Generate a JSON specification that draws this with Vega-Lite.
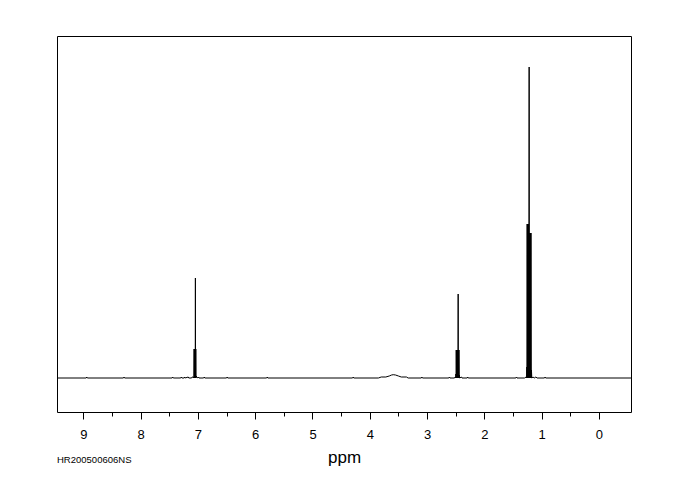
{
  "$schema": "https://vega.github.io/schema/vega-lite/v6.json",
  "autosize": "none",
  "width": 574,
  "height": 376,
  "padding": {"left": 57, "top": 36, "right": 49, "bottom": 88},
  "background": "white",
  "config": {
    "view": {"stroke": "black", "strokeWidth": 1},
    "font": "Liberation Sans"
  },
  "title": {
    "text": "HR200500606NS",
    "orient": "bottom",
    "anchor": "start",
    "frame": "group",
    "fontSize": 9.5,
    "fontWeight": "normal",
    "font": "Liberation Sans",
    "color": "black",
    "offset": -10
  },
  "data": {
    "values": [
      {"ppm": 9.46, "v": 0},
      {"ppm": 8.95, "v": 0},
      {"ppm": 8.94, "v": 1},
      {"ppm": 8.93, "v": 0},
      {"ppm": 8.3, "v": 0},
      {"ppm": 8.29, "v": 1},
      {"ppm": 8.28, "v": 0},
      {"ppm": 7.45, "v": 0},
      {"ppm": 7.44, "v": 1},
      {"ppm": 7.43, "v": 0},
      {"ppm": 7.3, "v": 0},
      {"ppm": 7.29, "v": 1},
      {"ppm": 7.28, "v": 0},
      {"ppm": 7.24, "v": 0},
      {"ppm": 7.23, "v": 1},
      {"ppm": 7.22, "v": 0},
      {"ppm": 7.17, "v": 1},
      {"ppm": 7.16, "v": 0},
      {"ppm": 7.11, "v": 0},
      {"ppm": 7.1, "v": 1},
      {"ppm": 7.085, "v": 1},
      {"ppm": 7.075, "v": 0},
      {"ppm": 7.07, "v": 2},
      {"ppm": 7.067, "v": 29},
      {"ppm": 7.063, "v": 0},
      {"ppm": 7.059, "v": 29},
      {"ppm": 7.055, "v": 0},
      {"ppm": 7.051, "v": 29},
      {"ppm": 7.047, "v": 0},
      {"ppm": 7.044, "v": 100},
      {"ppm": 7.041, "v": 0},
      {"ppm": 7.037, "v": 29},
      {"ppm": 7.033, "v": 0},
      {"ppm": 7.03, "v": 2},
      {"ppm": 7.02, "v": 1},
      {"ppm": 7.0, "v": 0},
      {"ppm": 6.99, "v": 1},
      {"ppm": 6.98, "v": 0},
      {"ppm": 6.9, "v": 0},
      {"ppm": 6.89, "v": 1},
      {"ppm": 6.88, "v": 0},
      {"ppm": 6.5, "v": 0},
      {"ppm": 6.49, "v": 1},
      {"ppm": 6.48, "v": 0},
      {"ppm": 5.8, "v": 0},
      {"ppm": 5.79, "v": 1},
      {"ppm": 5.78, "v": 0},
      {"ppm": 4.3, "v": 0},
      {"ppm": 4.29, "v": 1},
      {"ppm": 4.28, "v": 0},
      {"ppm": 3.85, "v": 0},
      {"ppm": 3.8, "v": 1},
      {"ppm": 3.72, "v": 1},
      {"ppm": 3.66, "v": 2},
      {"ppm": 3.62, "v": 3},
      {"ppm": 3.59, "v": 3.3},
      {"ppm": 3.55, "v": 3},
      {"ppm": 3.5, "v": 2},
      {"ppm": 3.45, "v": 1},
      {"ppm": 3.36, "v": 1},
      {"ppm": 3.33, "v": 0},
      {"ppm": 3.1, "v": 0},
      {"ppm": 3.09, "v": 1},
      {"ppm": 3.08, "v": 0},
      {"ppm": 2.62, "v": 0},
      {"ppm": 2.61, "v": 1},
      {"ppm": 2.6, "v": 0},
      {"ppm": 2.52, "v": 0},
      {"ppm": 2.51, "v": 1},
      {"ppm": 2.5, "v": 0},
      {"ppm": 2.496, "v": 4},
      {"ppm": 2.493, "v": 0},
      {"ppm": 2.491, "v": 28},
      {"ppm": 2.487, "v": 0},
      {"ppm": 2.483, "v": 28},
      {"ppm": 2.479, "v": 0},
      {"ppm": 2.475, "v": 28},
      {"ppm": 2.471, "v": 0},
      {"ppm": 2.467, "v": 28},
      {"ppm": 2.463, "v": 0},
      {"ppm": 2.459, "v": 28},
      {"ppm": 2.457, "v": 84},
      {"ppm": 2.455, "v": 0},
      {"ppm": 2.451, "v": 28},
      {"ppm": 2.447, "v": 0},
      {"ppm": 2.443, "v": 28},
      {"ppm": 2.439, "v": 0},
      {"ppm": 2.436, "v": 3},
      {"ppm": 2.43, "v": 0},
      {"ppm": 2.4, "v": 1},
      {"ppm": 2.39, "v": 0},
      {"ppm": 2.3, "v": 0},
      {"ppm": 2.29, "v": 1},
      {"ppm": 2.28, "v": 0},
      {"ppm": 1.45, "v": 0},
      {"ppm": 1.44, "v": 1},
      {"ppm": 1.43, "v": 0},
      {"ppm": 1.3, "v": 0},
      {"ppm": 1.27, "v": 1},
      {"ppm": 1.262, "v": 0},
      {"ppm": 1.258, "v": 11},
      {"ppm": 1.255, "v": 0},
      {"ppm": 1.253, "v": 154},
      {"ppm": 1.249, "v": 0},
      {"ppm": 1.245, "v": 154},
      {"ppm": 1.241, "v": 0},
      {"ppm": 1.237, "v": 154},
      {"ppm": 1.233, "v": 0},
      {"ppm": 1.229, "v": 154},
      {"ppm": 1.225, "v": 0},
      {"ppm": 1.221, "v": 154},
      {"ppm": 1.218, "v": 311},
      {"ppm": 1.214, "v": 0},
      {"ppm": 1.21, "v": 145},
      {"ppm": 1.206, "v": 0},
      {"ppm": 1.202, "v": 145},
      {"ppm": 1.198, "v": 0},
      {"ppm": 1.194, "v": 145},
      {"ppm": 1.19, "v": 0},
      {"ppm": 1.186, "v": 145},
      {"ppm": 1.182, "v": 0},
      {"ppm": 1.178, "v": 8},
      {"ppm": 1.172, "v": 0},
      {"ppm": 1.15, "v": 1},
      {"ppm": 1.13, "v": 0},
      {"ppm": 1.1, "v": 1},
      {"ppm": 1.08, "v": 0},
      {"ppm": 0.95, "v": 0},
      {"ppm": 0.94, "v": 1},
      {"ppm": 0.93, "v": 0},
      {"ppm": -0.56, "v": 0}
    ]
  },
  "mark": {"type": "line", "color": "black", "strokeWidth": 1, "interpolate": "linear"},
  "encoding": {
    "x": {
      "field": "ppm",
      "type": "quantitative",
      "scale": {"domain": [-0.56, 9.46], "reverse": true, "nice": false, "zero": false},
      "axis": {
        "title": "ppm",
        "titleFont": "Liberation Sans",
        "titleFontSize": 17,
        "titleFontWeight": "normal",
        "titleColor": "black",
        "titlePadding": 8,
        "values": [9, 8.5, 8, 7.5, 7, 6.5, 6, 5.5, 5, 4.5, 4, 3.5, 3, 2.5, 2, 1.5, 1, 0.5, 0],
        "labelExpr": "datum.value % 1 === 0 ? format(datum.value, 'd') : ''",
        "labelFont": "Liberation Sans",
        "labelFontSize": 13,
        "labelColor": "black",
        "labelPadding": 9,
        "domain": false,
        "grid": false,
        "ticks": true,
        "tickColor": "black",
        "tickWidth": 1,
        "tickSize": {"condition": {"test": "datum.value % 1 !== 0", "value": 4}, "value": 7},
        "labelFlush": false,
        "labelOverlap": false
      }
    },
    "y": {
      "field": "v",
      "type": "quantitative",
      "scale": {"domain": [-34, 342], "nice": false, "zero": false},
      "axis": null
    }
  }
}
